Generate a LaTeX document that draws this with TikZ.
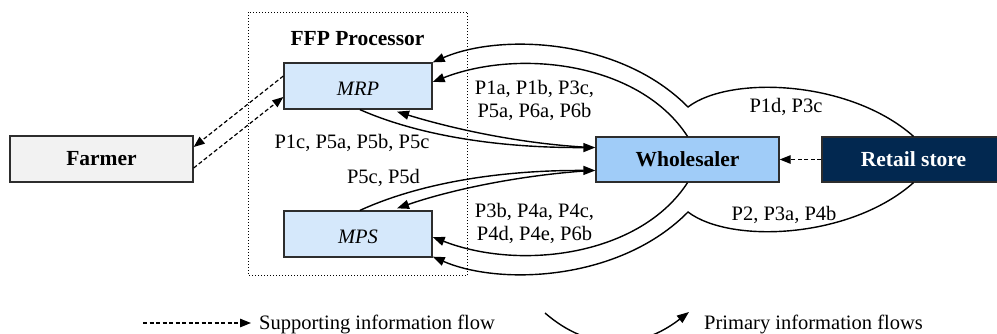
\documentclass[tikz,border=0pt]{standalone}
\usepackage{fontspec}
\setmainfont{Liberation Serif}
\usetikzlibrary{arrows.meta,calc}

\definecolor{procfill}{RGB}{213,232,251}
\definecolor{wholefill}{RGB}{160,204,248}
\definecolor{retailfill}{RGB}{2,40,80}
\definecolor{farmfill}{RGB}{242,242,242}
\definecolor{edgegray}{RGB}{45,45,45}

\tikzset{
  box/.style={draw=edgegray, line width=1.3pt, inner sep=0pt, minimum height=46pt},
  boxtitle/.style={font=\fontsize{21.5}{24}\selectfont\bfseries},
  lbl/.style={font=\fontsize{20.5}{23}\selectfont, inner sep=0pt, anchor=base},
  flow/.style={line width=1.4pt, -{Triangle[length=12pt,width=9pt]}},
  plain/.style={line width=1.4pt},
  support/.style={line width=1.2pt, dash pattern=on 4pt off 2.5pt, -{Triangle[length=11pt,width=8.5pt]}},
}

\begin{document}
\begin{tikzpicture}[x=1pt,y=-1pt]
\useasboundingbox (0,0) rectangle (997,333);

% processor frame
\draw[line width=1pt, dotted] (248.5,12) rectangle (467.5,275.5);
\node[boxtitle, anchor=base] (ffp) at (357.5,45) {FFP Processor};

% actors
\node[box, fill=farmfill, minimum width=183pt, boxtitle] (farmer) at (101.5,159) {Farmer};
\node[box, fill=procfill, minimum width=148pt] (mrp) at (358,86) {};
\node[box, fill=procfill, minimum width=148pt] (mps) at (358,234) {};
\node[lbl] (mrptxt) at (358,95) {\itshape MRP};
\node[lbl] (mpstxt) at (358,243) {\itshape MPS};
\node[box, fill=wholefill, minimum width=183pt, minimum height=45pt, boxtitle] (whole) at (687.5,159.5) {Wholesaler};
\node[box, fill=retailfill, minimum width=183pt, minimum height=45pt, boxtitle, text=white] (retail) at (913.5,159.5) {Retail store};

% cusps where the retail loops meet the wholesaler loops
\coordinate (cuspT) at (688,107);
\coordinate (cuspB) at (688,212);

% retail store -> MRP / MPS (passing the wholesaler)
\draw[flow] (retail.north) .. controls (850,80) and (730,75) .. (cuspT)
  .. controls (620,38) and (500,33) .. (mrp.north east);
\draw[flow] (retail.south) .. controls (850,239) and (730,244) .. (cuspB)
  .. controls (620,281) and (500,286) .. ($(mps.south east)+(0,-1)$);

% wholesaler -> MRP / MPS
\draw[flow] (whole.north) .. controls (640,63) and (520,48) .. ($(mrp.east)+(0,-4)$);
\draw[flow] (whole.south) .. controls (640,256) and (520,271) .. ($(mps.east)+(0,3)$);

% MRP <-> wholesaler
\draw[flow] ($(mrp.south)+(2,0)$) .. controls (420,136) and (500,148) .. ($(whole.west)+(0,-12)$);
\draw[flow] ($(whole.west)+(-4,-12)$) .. controls (520,144) and (450,128) .. ($(mrp.south)+(39,2)$);

% MPS <-> wholesaler
\draw[flow] ($(mps.north)+(2,0)$) .. controls (420,183) and (500,170) .. ($(whole.west)+(0,11)$);
\draw[flow] ($(whole.west)+(-4,11)$) .. controls (520,175) and (450,190) .. ($(mps.north)+(39,-2)$);

% supporting flows
\draw[support] ($(mrp.west)+(0,-10)$) -- ($(farmer.east)+(0,-12)$);
\draw[support] ($(farmer.east)+(0,9)$) -- ($(mrp.west)+(0,11)$);
\draw[support] (retail.west) -- (whole.east);

% flow labels
\node[lbl] (la1) at (534.5,94) {P1a, P1b, P3c,};
\node[lbl] (la2) at (534.5,117) {P5a, P6a, P6b};
\node[lbl] (lb1) at (534.5,217) {P3b, P4a, P4c,};
\node[lbl] (lb2) at (534.5,240) {P4d, P4e, P6b};
\node[lbl] (lc) at (352,148) {P1c, P5a, P5b, P5c};
\node[lbl] (ld) at (383.5,183) {P5c, P5d};
\node[lbl] (le) at (786,112) {P1d, P3c};
\node[lbl] (lf) at (784,220) {P2, P3a, P4b};

% legend
\coordinate (legA0) at (143,323);
\coordinate (legA1) at (251,323);
\draw[support] (legA0) -- (legA1);
\node[lbl, anchor=base west] (legAtxt) at (259,329) {Supporting information flow};
\coordinate (legB0) at (545,313);
\coordinate (legB1) at (689,312);
\draw[flow] (legB0) .. controls (590,352) and (640,350) .. (legB1);
\node[lbl, anchor=base west] (legBtxt) at (704,329) {Primary information flows};
\end{tikzpicture}
\end{document}
